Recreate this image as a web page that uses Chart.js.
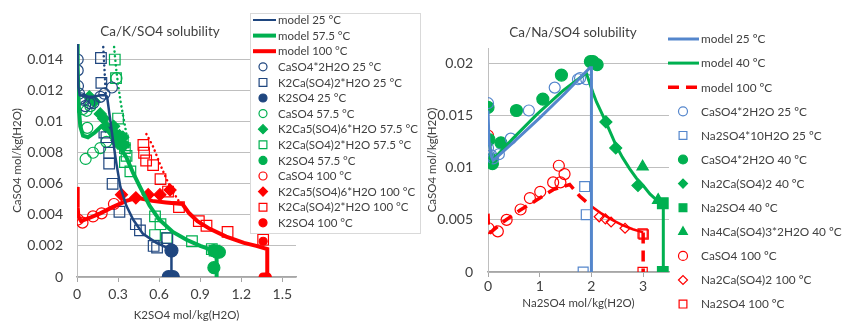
<!DOCTYPE html>
<html>
<head>
<meta charset="utf-8">
<script src="https://cdn.jsdelivr.net/npm/chart.js@4/dist/chart.umd.min.js"></script>
<style>
  html, body { margin: 0; padding: 0; background: #fff; }
  #wrap { position: relative; width: 844px; height: 322px; overflow: hidden; }
  canvas { position: absolute; top: 0; }
</style>
</head>
<body>
<div id="wrap">
  <canvas id="kChart" width="421" height="322" style="left:0"></canvas>
  <canvas id="naChart" width="423" height="322" style="left:421px"></canvas>
</div>
<script>
// ---- Ca/K/SO4 (left) ----
const kXTicks = [0, 0.3, 0.6, 0.9, 1.2, 1.5];
const kYTicks = [0, 0.002, 0.004, 0.006, 0.008, 0.01, 0.012, 0.014];

const kModel25 = [[0.002,0.0151],[0.005,0.0135],[0.01,0.0122],[0.02,0.0117],[0.07,0.0116],[0.12,0.0116],[0.17,0.0117],[0.21,0.0117],[0.22,0.0116],[0.24,0.0103],[0.263,0.0088],[0.288,0.0073],[0.317,0.0058],[0.36,0.0046],[0.41,0.0037],[0.48,0.0028],[0.58,0.0022],[0.68,0.0018],[0.69,0.0017],[0.69,0]];
const kModel57 = [[0,0.0151],[0.005,0.0135],[0.01,0.0118],[0.015,0.0107],[0.024,0.0097],[0.044,0.0091],[0.08,0.009],[0.13,0.0093],[0.178,0.0097],[0.215,0.0096],[0.25,0.0091],[0.288,0.0087],[0.324,0.0082],[0.361,0.0077],[0.41,0.0067],[0.46,0.0058],[0.53,0.0046],[0.6,0.0037],[0.7,0.0029],[0.8,0.0024],[0.9,0.002],[1.0,0.0017],[1.02,0.0016],[1.02,0]];
const kModel100 = [[0,0.0058],[0.005,0.0045],[0.01,0.0039],[0.03,0.0036],[0.09,0.0038],[0.17,0.0041],[0.26,0.0045],[0.36,0.0049],[0.44,0.0051],[0.55,0.0049],[0.65,0.0048],[0.77,0.0047],[0.82,0.0041],[0.88,0.0036],[0.97,0.0031],[1.09,0.0026],[1.22,0.0022],[1.31,0.002],[1.39,0.0018],[1.39,0]];
const kDot25 = [[0.19,0.0151],[0.2,0.0135],[0.21,0.0118]];
const kDot57 = [[0.268,0.0151],[0.285,0.0135],[0.3,0.0124],[0.32,0.0112],[0.345,0.01],[0.365,0.009],[0.38,0.0082]];
const kDot100 = [[0.507,0.0092],[0.556,0.0084],[0.605,0.0073],[0.654,0.0063],[0.7,0.0055],[0.75,0.0048]];

const kGyp25 = [[0.005,0.014],[0.005,0.0133],[0.007,0.0123],[0.015,0.0118],[0.03,0.0115],[0.05,0.0114],[0.06,0.011],[0.09,0.0112],[0.12,0.0112],[0.17,0.0116],[0.2,0.0118],[0.255,0.0122]];
const kSyn25 = [[0.175,0.0141],[0.178,0.0125],[0.2,0.0093],[0.215,0.009],[0.235,0.008],[0.235,0.0073],[0.26,0.006],[0.31,0.0042],[0.43,0.0034],[0.46,0.003],[0.56,0.002],[0.585,0.0019],[0.66,0.0025]];
const kArc25 = [[0.67,0],[0.7,0],[0.69,0.0017]];
const kGyp57 = [[0.04,0.0108],[0.07,0.0107],[0.098,0.011],[0.075,0.0096],[0.063,0.0076],[0.117,0.008],[0.17,0.0083],[0.215,0.0087],[0.288,0.0128]];
const kGor57 = [[0.09,0.0116],[0.125,0.0113],[0.17,0.0105],[0.195,0.0102],[0.21,0.0097],[0.245,0.0095],[0.268,0.0097],[0.27,0.0093],[0.29,0.0088],[0.3,0.0086],[0.31,0.0091],[0.335,0.009],[0.345,0.0085]];
const kSyn57 = [[0.276,0.014],[0.285,0.0128],[0.3,0.0102],[0.335,0.0088],[0.35,0.0083],[0.362,0.0078],[0.35,0.0074],[0.39,0.0068],[0.57,0.0039],[0.61,0.0034],[0.57,0.0027],[0.655,0.0025],[0.84,0.0023],[0.985,0.0018],[1.005,0.0017]];
const kArc57 = [[1.0,0.0017],[1.04,0.0016],[1.02,0.0016],[1.0,0.0006]];
const kGyp100 = [[0.007,0.0037],[0.04,0.0035],[0.117,0.0039],[0.18,0.0041],[0.27,0.0047]];
const kGor100 = [[0.325,0.0053],[0.43,0.0051],[0.52,0.0053],[0.606,0.0053],[0.68,0.0056]];
const kSyn100 = [[0.485,0.0085],[0.49,0.008],[0.505,0.0075],[0.556,0.0072],[0.61,0.0063],[0.665,0.0055],[0.745,0.0045],[0.89,0.0036],[0.946,0.0033],[1.1,0.0029],[1.36,0.0024]];
const kArc100 = [[1.36,0.0023],[1.36,0],[1.38,0],[1.39,0]];

// ---- Ca/Na/SO4 (right) ----
const naXTicks = [0, 1, 2, 3];
const naYTicks = [0, 0.005, 0.01, 0.015, 0.02];

const naModel25 = [[0,0.0155],[0.02,0.0125],[0.065,0.0111],[0.1,0.0107],[0.5,0.0125],[1.0,0.0148],[1.5,0.0172],[1.97,0.0196],[2.0,0.0196],[2.0,0]];
const naModel40 = [[0.03,0.0127],[0.065,0.0106],[0.1,0.0108],[0.48,0.0128],[0.94,0.0151],[1.45,0.0174],[1.9,0.0191],[2.03,0.0172],[2.1,0.0163],[2.26,0.0146],[2.48,0.0121],[2.6,0.011],[2.74,0.0099],[2.87,0.009],[3.0,0.0083],[3.13,0.0075],[3.26,0.0069],[3.39,0.0065],[3.39,0]];
const naModel100 = [[0,0.0056],[0.01,0.0039],[0.05,0.0038],[0.29,0.0048],[0.61,0.0059],[0.94,0.0069],[1.26,0.0079],[1.58,0.0084],[1.77,0.0073],[2.0,0.0063]];
const naModel100b = [[2.0,0.0063],[2.2,0.0056],[2.4,0.005],[2.6,0.0045],[2.8,0.0041],[3.0,0.0038]];
const naModel100c = [[3.0,0.0038],[3.0,0]];

const naGyp25 = [[0,0.0162],[0,0.0119],[0.065,0.0112],[0.1,0.0109],[0.21,0.0113],[0.44,0.0128],[0.79,0.0155],[1.29,0.0177],[1.74,0.0185],[1.78,0.0186],[1.9,0.0185]];
const naMir25 = [[1.87,0.0082],[1.9,0.0055],[1.84,0]];
const naGyp40 = [[0,0.0158],[0.02,0.0127],[0.065,0.0108],[0.085,0.0104],[0.25,0.0124],[0.55,0.0155],[1.06,0.0166],[1.42,0.0189],[1.98,0.0202],[2.03,0.0202],[2.11,0.0199]];
const naGla40 = [[2.28,0.0144],[2.47,0.0119],[2.9,0.0083]];
const naThe40 = [[3.38,0.0066],[3.38,0]];
const naTri40 = [[2.99,0.0101],[3.29,0.0069]];
const naAnh100 = [[0,0.0131],[0.01,0.0042],[0.19,0.0039],[0.36,0.005],[0.63,0.006],[0.81,0.0071],[1.01,0.0077],[1.26,0.0086],[1.37,0.0102],[1.4,0.0086],[1.48,0.0094]];
const naGla100 = [[2.15,0.0053],[2.27,0.0051],[2.38,0.0048],[2.65,0.0042]];
const naThe100 = [[2.99,0.0037],[3.01,0.0036],[2.99,0]];

const FONT = "Lato, 'Open Sans', sans-serif";
const TXT = '#404040';
const NAVY = '#1F467F';
const BLUE = '#5486CC';
const GREEN = '#00B050';
const RED = '#FF0000';
const NONE = 'rgba(0,0,0,0)';

const toXY = arr => arr.map(p => ({ x: p[0], y: p[1] }));
const fmt = v => String(+Number(v).toFixed(4));

const line = (label, data, color, width, dash, inLegend) => ({
    label, data: toXY(data), showLine: true, borderColor: color, backgroundColor: color,
    borderWidth: width, borderDash: dash || [], borderCapStyle: dash && dash[0] < 1 ? 'round' : 'butt',
    pointRadius: 0, pointHoverRadius: 0, tension: 0, fill: false, inLegend: inLegend !== false
});

const pts = (label, data, style, color, filled, radius) => ({
    label, data: toXY(data), showLine: false, pointStyle: style, pointRadius: radius,
    pointBorderColor: color, pointBackgroundColor: filled ? color : NONE,
    borderColor: color, backgroundColor: filled ? color : NONE,
    pointBorderWidth: 1.2, filled, inLegend: true
});

// titles + legend drawn on the canvas after the data
const boxLegend = {
    id: 'boxLegend',
    afterDraw(chart, args, o) {
        const ctx = chart.ctx;
        ctx.save();
        ctx.fillStyle = TXT;
        ctx.font = o.titleFont;
        ctx.textAlign = 'center';
        ctx.textBaseline = 'middle';
        ctx.fillText(o.title, o.titleX, o.titleY);
        if (o.box) {
            ctx.fillStyle = '#fff';
            ctx.fillRect(o.box[0], o.box[1], o.box[2], o.box[3]);
            ctx.strokeStyle = '#D9D9D9';
            ctx.lineWidth = 1;
            ctx.strokeRect(o.box[0] + 0.5, o.box[1] + 0.5, o.box[2], o.box[3]);
        }
        ctx.font = o.font;
        ctx.textAlign = 'left';
        let y = o.y0;
        chart.data.datasets.forEach(ds => {
            if (!ds.inLegend) return;
            if (ds.showLine) {
                ctx.strokeStyle = ds.borderColor;
                ctx.lineWidth = ds.legendWidth || ds.borderWidth;
                ctx.setLineDash(ds.borderDash || []);
                ctx.lineCap = 'butt';
                ctx.beginPath();
                ctx.moveTo(o.lineX0, y);
                ctx.lineTo(o.lineX1, y);
                ctx.stroke();
                ctx.setLineDash([]);
            } else {
                ctx.fillStyle = ds.filled ? ds.pointBorderColor : NONE;
                ctx.strokeStyle = ds.pointBorderColor;
                ctx.lineWidth = 1.2;
                Chart.helpers.drawPoint(ctx, {
                    pointStyle: ds.pointStyle, rotation: 0,
                    radius: o.markR[ds.pointStyle] || 4, borderWidth: 1.2
                }, o.markX, y);
            }
            ctx.fillStyle = TXT;
            ctx.fillText(ds.label, o.textX, y + 0.5);
            y += o.rowH;
        });
        ctx.restore();
    }
};

const axes = (xMin, xMax, xTicks, yMax, yTicks, xTitle, dims) => ({
    x: {
        type: 'linear', min: xMin, max: xMax,
        afterBuildTicks: s => { s.ticks = xTicks.map(v => ({ value: v })); },
        afterFit: s => { s.height = dims.xH; },
        ticks: { font: { family: FONT, size: 14 }, color: TXT, padding: dims.xPad, maxRotation: 0, autoSkip: false, callback: v => fmt(v) },
        grid: { drawOnChartArea: false, drawTicks: true, tickLength: 5, color: '#A6A6A6' },
        border: { display: true, color: '#A6A6A6', width: 1.5 },
        title: { display: true, text: xTitle, font: { family: FONT, size: 11.5 }, color: TXT, padding: { top: 0, bottom: dims.xTitlePad } }
    },
    y: {
        type: 'linear', min: 0, max: yMax,
        afterBuildTicks: s => { s.ticks = yTicks.map(v => ({ value: v })); },
        afterFit: s => { s.width = dims.yW; },
        ticks: { font: { family: FONT, size: 14 }, color: TXT, padding: dims.yPad, callback: v => fmt(v) },
        grid: { color: '#BFBFBF', lineWidth: 1, drawTicks: false },
        border: { display: true, color: '#BFBFBF', width: 1 },
        title: { display: true, text: 'CaSO4 mol/kg(H2O)', font: { family: FONT, size: 11.5 }, color: TXT, padding: { top: dims.yTitlePad, bottom: 0 } }
    }
});

const kChart = () => {
    const datasets = [
        line('model 25 °C', kModel25, NAVY, 2.5),
        line('model 57.5 °C', kModel57, GREEN, 4),
        line('model 100 °C', kModel100, RED, 4),
        pts('CaSO4*2H2O 25 °C', kGyp25, 'circle', NAVY, false, 5.5),
        pts('K2Ca(SO4)2*H2O 25 °C', kSyn25, 'rect', NAVY, false, 7.5),
        pts('K2SO4 25 °C', kArc25, 'circle', NAVY, true, 6.5),
        pts('CaSO4 57.5 °C', kGyp57, 'circle', GREEN, false, 5.5),
        pts('K2Ca5(SO4)6*H2O 57.5 °C', kGor57, 'rectRot', GREEN, true, 6),
        pts('K2Ca(SO4)2*H2O 57.5 °C', kSyn57, 'rect', GREEN, false, 7.5),
        pts('K2SO4 57.5 °C', kArc57, 'circle', GREEN, true, 6),
        pts('CaSO4 100 °C', kGyp100, 'circle', RED, false, 5.5),
        pts('K2Ca5(SO4)6*H2O 100 °C', kGor100, 'rectRot', RED, true, 6),
        pts('K2Ca(SO4)2*H2O 100 °C', kSyn100, 'rect', RED, false, 7.5),
        pts('K2SO4 100 °C', kArc100, 'circle', RED, true, 4),
        line('', kDot25, NAVY, 2.5, [0.1, 4.5], false),
        line('', kDot57, GREEN, 2.5, [0.1, 4.5], false),
        line('', kDot100, RED, 2.5, [0.1, 4.5], false)
    ];
    datasets[0].legendWidth = 2;
    new Chart(document.getElementById('kChart'), {
        type: 'scatter',
        data: { datasets },
        options: {
            responsive: false, animation: false, devicePixelRatio: 1,
            layout: { padding: { left: 0, top: 44, right: 125, bottom: 0 } },
            scales: axes(0, 1.6, kXTicks, 0.015, kYTicks, 'K2SO4 mol/kg(H2O)',
                { xH: 45, xPad: 4, xTitlePad: 0, yW: 77, yPad: 14, yTitlePad: 10 }),
            plugins: {
                legend: { display: false }, tooltip: { enabled: false },
                boxLegend: {
                    title: 'Ca/K/SO4 solubility', titleX: 160, titleY: 32, titleFont: '13.5px ' + FONT,
                    box: [250, 13, 170, 220], font: '11.5px ' + FONT,
                    y0: 20, rowH: 15.6, lineX0: 253, lineX1: 276, markX: 263, textX: 278,
                    markR: { circle: 4, rect: 5.5, rectRot: 4.5 }
                }
            }
        },
        plugins: [boxLegend]
    });
};

const naChart = () => {
    const datasets = [
        line('model 25 ºC', naModel25, BLUE, 3),
        line('model 40 ºC', naModel40, GREEN, 3),
        line('model 100 ºC', naModel100, RED, 3.5, [11, 7]),
        pts('CaSO4*2H2O 25 ºC', naGyp25, 'circle', BLUE, false, 5.5),
        pts('Na2SO4*10H2O 25 ºC', naMir25, 'rect', BLUE, false, 7),
        pts('CaSO4*2H2O 40 ºC', naGyp40, 'circle', GREEN, true, 6),
        pts('Na2Ca(SO4)2 40 ºC', naGla40, 'rectRot', GREEN, true, 6),
        pts('Na2SO4 40 ºC', naThe40, 'rect', GREEN, true, 7.5),
        pts('Na4Ca(SO4)3*2H2O 40 ºC', naTri40, 'triangle', GREEN, true, 6.5),
        pts('CaSO4 100 ºC', naAnh100, 'circle', RED, false, 5.5),
        pts('Na2Ca(SO4)2 100 ºC', naGla100, 'rectRot', RED, false, 5),
        pts('Na2SO4 100 ºC', naThe100, 'rect', RED, false, 6.5),
        line('', naModel100b, RED, 2.5, null, false),
        line('', naModel100c, RED, 3.5, [11, 7], false)
    ];
    new Chart(document.getElementById('naChart'), {
        type: 'scatter',
        data: { datasets },
        options: {
            responsive: false, animation: false, devicePixelRatio: 1,
            layout: { padding: { left: 0, top: 48, right: 175, bottom: 0 } },
            scales: axes(0, 3.5, naXTicks, 0.0215, naYTicks, 'Na2SO4 mol/kg(H2O)',
                { xH: 50, xPad: 1, xTitlePad: 12, yW: 67, yPad: 15, yTitlePad: 4 }),
            plugins: {
                legend: { display: false }, tooltip: { enabled: false },
                boxLegend: {
                    title: 'Ca/Na/SO4 solubility', titleX: 152, titleY: 33, titleFont: '13.5px ' + FONT,
                    box: null, font: '11.8px ' + FONT,
                    y0: 39, rowH: 24.1, lineX0: 247, lineX1: 278, markX: 262, textX: 280,
                    markR: { circle: 4.5, rect: 5.5, rectRot: 4.5, triangle: 5 }
                }
            }
        },
        plugins: [boxLegend]
    });
};

kChart();
naChart();
</script>
</body>
</html>
